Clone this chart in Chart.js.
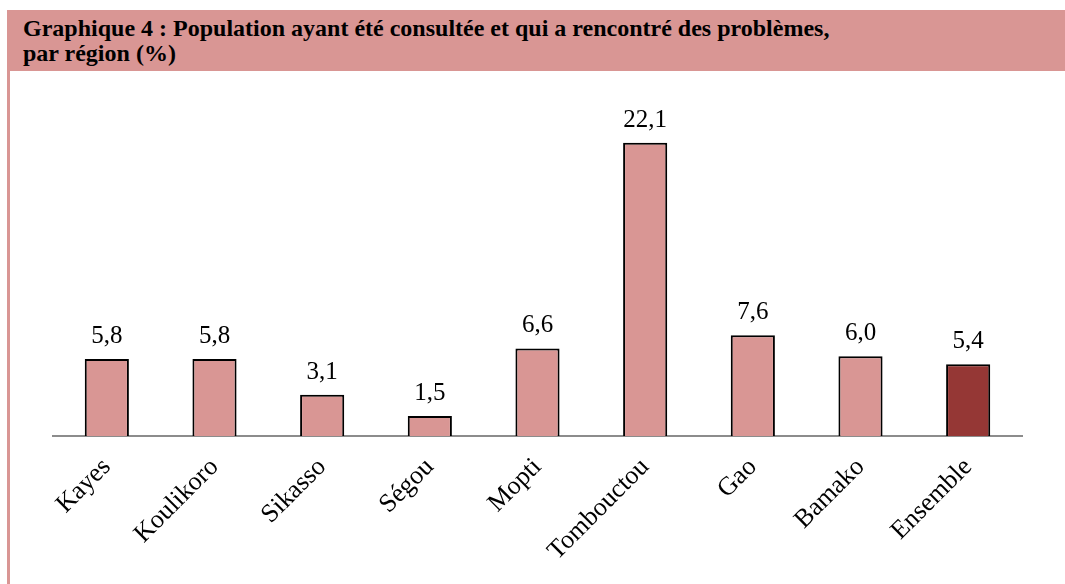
<!DOCTYPE html>
<html>
<head>
<meta charset="utf-8">
<script src="https://cdn.jsdelivr.net/npm/chart.js@4.4.0/dist/chart.umd.min.js"></script>
<style>
  body { margin: 0; background: #fff; width: 1065px; height: 584px; overflow: hidden; position: relative; }
  #bande { position: absolute; left: 7px; top: 10px; width: 1058px; height: 61px; background: #d99694; }
  #titre { position: absolute; left: 16px; top: 6px; font: bold 24px 'Liberation Serif', 'Times New Roman', serif; line-height: 25px; color: #000; white-space: nowrap; }
  #bord { position: absolute; left: 7px; top: 71px; width: 3px; height: 513px; background: #d99694; }
  #zone { position: absolute; left: 10px; top: 71px; width: 1055px; height: 513px; }
</style>
</head>
<body>
<div id="bande"><div id="titre">Graphique 4 : Population ayant été consultée et qui a rencontré des problèmes,<br>par région (%)</div></div>
<div id="bord"></div>
<div id="zone"><canvas id="graphique"></canvas></div>
<script>
const regions = ['Kayes', 'Koulikoro', 'Sikasso', 'Ségou', 'Mopti', 'Tombouctou', 'Gao', 'Bamako', 'Ensemble'];
const valeurs = [5.8, 5.8, 3.1, 1.5, 6.6, 22.1, 7.6, 6.0, 5.4];
const couleurs = ['#d99694', '#d99694', '#d99694', '#d99694', '#d99694', '#d99694', '#d99694', '#d99694', '#953735'];

const police = "'Liberation Serif', 'Times New Roman', serif";

// etiquettes de valeur au-dessus des barres
const etiquettes = {
  id: 'etiquettes',
  afterDatasetsDraw(chart) {
    const ctx = chart.ctx;
    const meta = chart.getDatasetMeta(0);
    ctx.save();
    ctx.font = '25px ' + police;
    ctx.fillStyle = '#000';
    ctx.textAlign = 'center';
    ctx.textBaseline = 'alphabetic';
    meta.data.forEach((bar, i) => {
      ctx.fillText(valeurs[i].toFixed(1).replace('.', ','), bar.x, bar.y - 16);
    });
    ctx.restore();
  }
};

const ctx = document.getElementById('graphique').getContext('2d');
new Chart(ctx, {
  type: 'bar',
  data: {
    labels: regions,
    datasets: [{
      data: valeurs,
      backgroundColor: couleurs,
      borderColor: '#000',
      borderWidth: 2,
      borderSkipped: 'bottom',
      barPercentage: 0.41,
      categoryPercentage: 1
    }]
  },
  plugins: [etiquettes],
  options: {
    responsive: true,
    maintainAspectRatio: false,
    animation: false,
    layout: { padding: { left: 43, right: 43, top: 0, bottom: 0 } },
    plugins: {
      legend: { display: false },
      tooltip: { enabled: false }
    },
    scales: {
      x: {
        grid: { display: false },
        border: { color: '#8c8c8c', width: 2 },
        ticks: {
          color: '#000',
          font: { family: police, size: 26 },
          minRotation: 45,
          maxRotation: 45,
          autoSkip: false,
          padding: 8
        },
        afterFit(scale) { scale.height = 148; }
      },
      y: {
        display: false,
        min: 0,
        max: 27.5
      }
    }
  }
});
</script>
</body>
</html>
